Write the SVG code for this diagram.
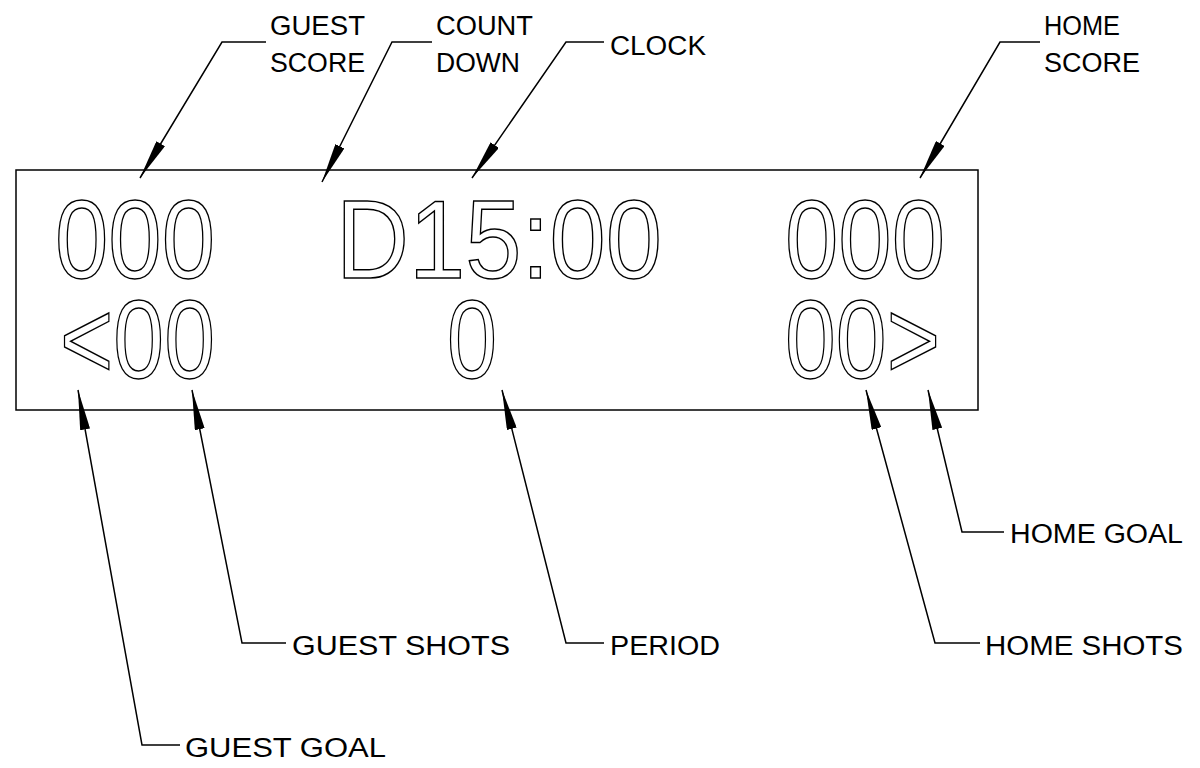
<svg xmlns="http://www.w3.org/2000/svg" width="1200" height="768" viewBox="0 0 1200 768">
<defs>
<marker id="ah" viewBox="0 0 40 10" refX="40" refY="5" markerWidth="40" markerHeight="10" markerUnits="userSpaceOnUse" orient="auto"><path d="M0,0 L40,5 L0,10 Z" fill="#000"/></marker>
</defs>
<style>
.l{font-family:"Liberation Sans",sans-serif;font-size:27px;fill:#000}
.d{font-family:"Liberation Sans",sans-serif;font-size:112px;fill:none;stroke:#000;stroke-width:1.5}
.c{fill:none;stroke:#000;stroke-width:1.5}
</style>
<rect fill="#fff" width="1200" height="768"/>
<g id="display">
<rect class="c" x="16" y="170" width="962" height="240"/>
<text class="d" x="55" y="278" textLength="160" lengthAdjust="spacingAndGlyphs">000</text>
<text class="d" x="336" y="278" textLength="326" lengthAdjust="spacingAndGlyphs">D15:00</text>
<text class="d" x="785" y="278" textLength="160" lengthAdjust="spacingAndGlyphs">000</text>
<text class="d" x="60" y="378" textLength="155" lengthAdjust="spacingAndGlyphs">&lt;00</text>
<text class="d" x="447" y="378" textLength="50" lengthAdjust="spacingAndGlyphs">0</text>
<text class="d" x="785" y="378" textLength="155" lengthAdjust="spacingAndGlyphs">00&gt;</text>
</g>
<g id="labels">
<text class="l" x="270" y="35" textLength="95" lengthAdjust="spacingAndGlyphs">GUEST</text>
<text class="l" x="270" y="72" textLength="95" lengthAdjust="spacingAndGlyphs">SCORE</text>
<text class="l" x="436" y="35" textLength="97" lengthAdjust="spacingAndGlyphs">COUNT</text>
<text class="l" x="436" y="72" textLength="84" lengthAdjust="spacingAndGlyphs">DOWN</text>
<text class="l" x="610" y="55" textLength="96" lengthAdjust="spacingAndGlyphs">CLOCK</text>
<text class="l" x="1044" y="35" textLength="76" lengthAdjust="spacingAndGlyphs">HOME</text>
<text class="l" x="1044" y="72" textLength="96" lengthAdjust="spacingAndGlyphs">SCORE</text>
<text class="l" x="1010" y="543" textLength="173" lengthAdjust="spacingAndGlyphs">HOME GOAL</text>
<text class="l" x="985" y="655" textLength="198" lengthAdjust="spacingAndGlyphs">HOME SHOTS</text>
<text class="l" x="610" y="655" textLength="110" lengthAdjust="spacingAndGlyphs">PERIOD</text>
<text class="l" x="292" y="655" textLength="218" lengthAdjust="spacingAndGlyphs">GUEST SHOTS</text>
<text class="l" x="185" y="757" textLength="201" lengthAdjust="spacingAndGlyphs">GUEST GOAL</text>
</g>
<g id="connectors" class="c">
<polyline class="c" points="266,42 222,42 140,178" marker-end="url(#ah)"/>
<polyline class="c" points="432,42 392,42 322,182" marker-end="url(#ah)"/>
<polyline class="c" points="604,42 566,42 472,178" marker-end="url(#ah)"/>
<polyline class="c" points="1040,42 1000,42 920,178" marker-end="url(#ah)"/>
<polyline class="c" points="1004,532 962,532 928,390" marker-end="url(#ah)"/>
<polyline class="c" points="980,643 935,643 866,390" marker-end="url(#ah)"/>
<polyline class="c" points="604,643 566,643 502,390" marker-end="url(#ah)"/>
<polyline class="c" points="286,643 242,643 192,390" marker-end="url(#ah)"/>
<polyline class="c" points="180,745 142,745 78,390" marker-end="url(#ah)"/>
</g>
</svg>
